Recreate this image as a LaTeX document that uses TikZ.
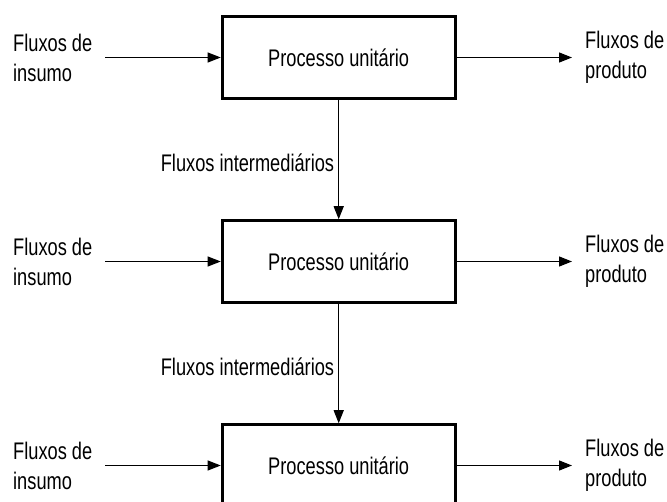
\documentclass[tikz,border=0pt]{standalone}
\usepackage{fontspec}
\setmainfont{Liberation Sans}[FakeStretch=0.76]
\usetikzlibrary{positioning,arrows.meta}

\tikzset{
  proc/.style={draw, line width=3pt, minimum width=233pt, minimum height=81.5pt, inner sep=0pt},
  lbl/.style={align=left, inner sep=0pt},
  arr/.style={-{Triangle[length=13pt,width=10pt]}, line width=1.1pt},
}

\begin{document}
\begin{tikzpicture}[x=1pt, y=-1pt, node distance=204pt, font=\fontsize{24}{30}\selectfont]
  \useasboundingbox (0,0) rectangle (667,502);
  % process chain
  \node(P1) [proc] at (338.7,57.5) {Processo unitário};
  \node(P2) [proc, below of=P1] {Processo unitário};
  \node(P3) [proc, below of=P2] {Processo unitário};
  % inputs
  \node(I1) [lbl, anchor=west] at (13,0 |- P1) {Fluxos de\\insumo};
  \node(I2) [lbl, anchor=west] at (13,0 |- P2) {Fluxos de\\insumo};
  \node(I3) [lbl, anchor=west] at (13,0 |- P3) {Fluxos de\\insumo};
  % outputs
  \node(O1) [lbl, anchor=west] at (585,0 |- P1) {Fluxos de\\produto};
  \node(O2) [lbl, anchor=west] at (585,0 |- P2) {Fluxos de\\produto};
  \node(O3) [lbl, anchor=west] at (585,0 |- P3) {Fluxos de\\produto};
  \draw[arr] ([xshift=13pt]I1.east) -- (P1);
  \draw[arr] ([xshift=13pt]I2.east) -- (P2);
  \draw[arr] ([xshift=13pt]I3.east) -- (P3);
  \draw[arr] (P1) -- ([xshift=-13pt]O1.west);
  \draw[arr] (P2) -- ([xshift=-13pt]O2.west);
  \draw[arr] (P3) -- ([xshift=-13pt]O3.west);
  % intermediate flows
  \draw[arr] (P1) -- node(M1) [lbl, left=4pt, pos=0.53] {Fluxos intermediários} (P2);
  \draw[arr] (P2) -- node(M2) [lbl, left=4pt, pos=0.53] {Fluxos intermediários} (P3);
\end{tikzpicture}
\end{document}
